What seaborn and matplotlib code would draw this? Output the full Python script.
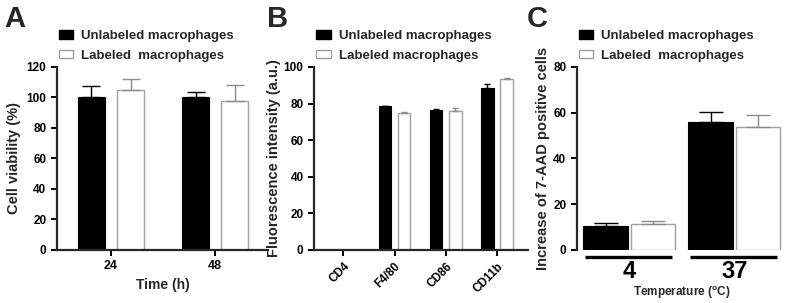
import numpy as np
import pandas as pd
import matplotlib
matplotlib.use("Agg")
import matplotlib.pyplot as plt
import matplotlib.transforms as mtransforms
import seaborn as sns

sns.set_theme(style="ticks")
plt.rcParams['font.family'] = ['Liberation Sans Narrow', 'Liberation Sans', 'DejaVu Sans']
plt.rcParams['font.weight'] = 'bold'
plt.rcParams['axes.labelweight'] = 'bold'
plt.rcParams['axes.linewidth'] = 1.6
plt.rcParams['xtick.major.width'] = 1.4
plt.rcParams['ytick.major.width'] = 1.4
plt.rcParams['xtick.major.size'] = 4
plt.rcParams['ytick.major.size'] = 4
plt.rcParams['xtick.color'] = 'black'
plt.rcParams['ytick.color'] = 'black'

# ---- data ----
groups = ["Unlabeled", "Labeled"]

# A: cell viability
time_h = ["24", "48"]
viab_unl = [100.0, 100.0]
viab_unl_err = [7.8, 3.6]
viab_lab = [104.8, 97.8]
viab_lab_err = [7.4, 10.4]

# B: fluorescence intensity of markers
markers = ["CD4", "F4/80", "CD86", "CD11b"]
fluo_unl = [0.0, 78.5, 76.6, 88.5]
fluo_unl_err = [0.0, 0.3, 0.5, 2.3]
fluo_lab = [0.0, 75.0, 75.9, 93.6]
fluo_lab_err = [0.0, 0.4, 1.5, 0.3]

# C: 7-AAD positive cells
temps = ["4", "37"]
aad_unl = [10.6, 55.8]
aad_unl_err = [1.0, 4.4]
aad_lab = [11.2, 53.8]
aad_lab_err = [1.3, 5.1]

palette = {"Unlabeled": "black", "Labeled": "white"}
err_colors = ["black", "#8c8c8c"]


def make_df(cats, unl, lab):
    return pd.DataFrame({
        "cat": list(cats) * 2,
        "val": list(unl) + list(lab),
        "group": ["Unlabeled"] * len(cats) + ["Labeled"] * len(cats),
    })


def draw_panel(ax, cats, unl, unl_err, lab, lab_err, width, gap, cap, legend_labels):
    df = make_df(cats, unl, lab)
    sns.barplot(data=df, x="cat", y="val", hue="group", hue_order=groups,
                palette=palette, width=width, gap=gap, errorbar=None,
                edgecolor="black", linewidth=0.8, legend=False, ax=ax)
    # white bars get a light grey outline
    for bar in ax.containers[1]:
        bar.set_edgecolor("#a0a0a0")
        bar.set_linewidth(1.0)
    for cont, errs, col in zip(list(ax.containers), [unl_err, lab_err], err_colors):
        keep = [i for i, e in enumerate(errs) if e > 0]
        xs = [cont[i].get_x() + cont[i].get_width() / 2 for i in keep]
        hs = [cont[i].get_height() for i in keep]
        es = [errs[i] for i in keep]
        ax.errorbar(xs, hs, yerr=[np.zeros(len(es)), es], fmt="none",
                    ecolor=col, elinewidth=1.0, capsize=cap, capthick=1.0)
    handles = [plt.Rectangle((0, 0), 1, 1, facecolor="black", edgecolor="black"),
               plt.Rectangle((0, 0), 1, 1, facecolor="white", edgecolor="#a0a0a0")]
    ax.legend(handles, legend_labels, loc="upper left", bbox_to_anchor=(0.01, 1.2),
              frameon=False, borderpad=0, borderaxespad=0,
              handlelength=1.1, handleheight=0.65, handletextpad=0.6,
              labelspacing=0.55, prop={"weight": "bold", "size": 9.5})
    ax.set_xlabel("")
    sns.despine(ax=ax)
    ax.tick_params(axis="both", labelsize=8.5)


fig = plt.figure(figsize=(7.89, 3.03), dpi=100)
axA = fig.add_axes([0.072, 0.175, 0.268, 0.604])
axB = fig.add_axes([0.398, 0.175, 0.271, 0.604])
axC = fig.add_axes([0.731, 0.175, 0.266, 0.604])

# A
draw_panel(axA, time_h, viab_unl, viab_unl_err, viab_lab, viab_lab_err,
           0.75, 0.3, 6.5, ["Unlabeled macrophages", "Labeled  macrophages"])
axA.set_ylim(0, 120)
axA.set_yticks(np.arange(0, 121, 20))
axA.set_xlim(-0.52, 1.51)
axA.tick_params(axis="x", labelsize=9)
axA.set_xlabel("Time (h)", fontsize=10)
axA.set_ylabel("Cell viability (%)", fontsize=10.5)

# B
draw_panel(axB, markers, fluo_unl, fluo_unl_err, fluo_lab, fluo_lab_err,
           0.75, 0.35, 2.5, ["Unlabeled macrophages", "Labeled macrophages"])
axB.set_ylim(0, 100)
axB.set_yticks(np.arange(0, 101, 20))
axB.set_xlim(-0.57, 3.6)
axB.set_ylabel("Fluorescence intensity (a.u.)", fontsize=10.5, labelpad=2)
plt.setp(axB.get_xticklabels(), rotation=45, ha="right", rotation_mode="anchor",
         fontsize=8.5)

# C
draw_panel(axC, temps, aad_unl, aad_unl_err, aad_lab, aad_lab_err,
           0.9, 0.06, 8.5, ["Unlabeled macrophages", "Labeled  macrophages"])
axC.set_ylim(0, 80)
axC.set_yticks(np.arange(0, 81, 20))
axC.set_xlim(-0.5, 1.5)
axC.spines["bottom"].set_visible(False)
axC.tick_params(axis="x", length=0, labelsize=17, pad=7)
axC.set_ylabel("Increase of 7-AAD positive cells", fontsize=10.5, labelpad=2)
axC.set_xlabel("Temperature ($^\\mathregular{o}$C)", fontsize=8.5, labelpad=1)
trans = mtransforms.blended_transform_factory(axC.transData, axC.transAxes)
for pos in axC.get_xticks():
    axC.plot([pos - 0.42, pos + 0.41], [-0.04, -0.04], color="black", lw=2.4,
             transform=trans, clip_on=False, solid_capstyle="butt")

for lab, x in zip(["A", "B", "C"], [0.006, 0.338, 0.668]):
    fig.text(x, 0.985, lab, fontsize=21, fontweight="bold", va="top", ha="left")

fig.savefig("out.png", dpi=100)
